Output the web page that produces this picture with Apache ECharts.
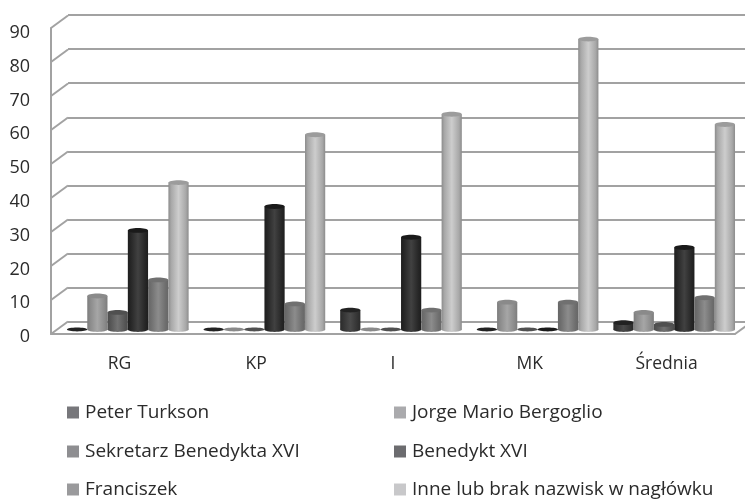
<!DOCTYPE html>
<html><head><meta charset="utf-8">
<style>html,body{margin:0;padding:0;background:#fff}#c{width:745px;height:500px;filter:blur(0.45px)}</style>
<script src="https://cdn.jsdelivr.net/npm/echarts@6/dist/echarts.min.js"></script>
</head><body><div id="c"></div>
<script>
const categories = ['RG','KP','I','MK','Średnia'];
const yTicks = [0,10,20,30,40,50,60,70,80,90];
const names = ['Peter Turkson','Jorge Mario Bergoglio','Sekretarz Benedykta XVI','Benedykt XVI','Franciszek','Inne lub brak nazwisk w nagłówku'];
const peterTurkson = [0,0,5.7,0,2];
const jorgeBergoglio = [9.8,0,0,8,5];
const sekretarz = [5,0,0,0,1.5];
const benedykt = [29,36,27,0,24];
const franciszek = [14.5,7.5,5.7,8,9.3];
const inne = [43,57,63,85,60];
const allValues = [peterTurkson,jorgeBergoglio,sekretarz,benedykt,franciszek,inne];
const legendColors = ['#77777b','#aaaaad','#8e8e91','#6c6c6f','#9a9a9c','#c8c8ca'];
const bodyShades = [
  ['#2a2a2a','#4a4a4a','#333333'],
  ['#7c7c7c','#a6a6a6','#8a8a8a'],
  ['#4c4c4c','#727272','#555555'],
  ['#1e1e1e','#414141','#262626'],
  ['#666666','#8c8c8c','#6e6e6e'],
  ['#8c8c8c','#cdcdcd','#a8a8a8']
];
const capShades = ['#222222','#8a8a8a','#505050','#1a1a1a','#707070','#9c9c9c'];
const GRID_LINE = '#a2a2a2', TEXT = '#2b2b2b', FONT = 'Open Sans';
const DEPTH_X = 17, DEPTH_Y = -12.5;
const legendPos = [[67,403],[394,403],[67,442],[394,442],[67,480],[394,480]];

function barSeries(i){
  return {
    type:'custom', name:names[i], xAxisIndex:2, yAxisIndex:2, z:5+i, clip:false,
    encode:{x:0,y:1},
    data:allValues[i].map((v,k)=>[k,v]),
    renderItem(params,api){
      const c = api.coord([api.value(0),api.value(1)]);
      const base = api.coord([api.value(0),0]);
      const band = api.size([1,0])[0];
      const pitch = band*0.1485, w = band*0.148;
      const x = c[0]+(i-2.5)*pitch-w/2, rx=w/2, ry=2.4;
      const s = bodyShades[i];
      const fill = {type:'linear',x:0,y:0,x2:1,y2:0,colorStops:[
        {offset:0,color:s[0]},{offset:.14,color:s[2]},{offset:.5,color:s[1]},{offset:.86,color:s[2]},{offset:1,color:s[0]}]};
      const h = base[1]-c[1];
      const children = [];
      if(h>0.5){
        children.push({type:'rect',shape:{x:x,y:c[1],width:w,height:h},style:{fill:fill}});
        children.push({type:'ellipse',shape:{cx:x+rx,cy:base[1],rx:rx,ry:ry},style:{fill:fill}});
      }
      children.push({type:'ellipse',shape:{cx:x+rx,cy:c[1],rx:rx,ry:h>0.5?ry:1.9},style:{fill:capShades[i]}});
      return {type:'group',children:children};
    }
  };
}

const frame = {
  type:'custom', xAxisIndex:1, yAxisIndex:1, z:2, silent:true, clip:false,
  data:yTicks.map(v=>[0,v]),
  renderItem(params,api){
    const r = params.coordSys, y = api.coord([0,api.value(1)])[1];
    const children = [{type:'line',shape:{x1:r.x,y1:y,x2:r.x+DEPTH_X,y2:y+DEPTH_Y},style:{stroke:GRID_LINE,lineWidth:2}}];
    if(api.value(1)===0){
      children.push({type:'line',shape:{x1:r.x+r.width,y1:y,x2:r.x+r.width+DEPTH_X,y2:y+DEPTH_Y},style:{stroke:GRID_LINE,lineWidth:2}});
    }
    return {type:'group',children:children};
  }
};

const chart = echarts.init(document.getElementById('c'),null,{renderer:'canvas'});
chart.setOption({
  animation:false, backgroundColor:'#fff',
  textStyle:{fontFamily:FONT},
  grid:[
    {left:68,right:-2,top:15,height:307},
    {left:51,width:684,top:28,height:306},
    {left:59.5,width:683,top:22,height:307.5},
    {left:51,width:684,top:33,height:304}
  ],
  xAxis:[
    {gridIndex:0,type:'category',data:categories,show:false},
    {gridIndex:1,type:'category',data:categories,
      axisLine:{show:true,lineStyle:{color:GRID_LINE,width:2}},axisTick:{show:false},
      axisLabel:{color:TEXT,fontSize:17.5,fontFamily:FONT,margin:21}},
    {gridIndex:2,type:'category',data:categories,show:false},
    {gridIndex:3,type:'category',data:categories,show:false}
  ],
  yAxis:[
    {gridIndex:0,type:'value',min:0,max:90,interval:10,
      axisLine:{show:false},axisTick:{show:false},axisLabel:{show:false},
      splitLine:{show:true,lineStyle:{color:GRID_LINE,width:2}}},
    {gridIndex:1,type:'value',min:0,max:90,interval:10,
      axisLine:{show:true,lineStyle:{color:GRID_LINE,width:2}},axisTick:{show:false},
      axisLabel:{show:false},splitLine:{show:false}},
    {gridIndex:2,type:'value',min:0,max:90,interval:10,show:false},
    {gridIndex:3,type:'value',min:0,max:90,interval:10,
      axisLine:{show:false},axisTick:{show:false},splitLine:{show:false},
      axisLabel:{color:TEXT,fontSize:18,fontFamily:FONT,margin:21}}
  ],
  legend:names.map((n,i)=>({
    left:legendPos[i][0],top:legendPos[i][1],
    data:[{name:n,itemStyle:{color:legendColors[i]},icon:'rect'}],
    itemWidth:12,itemHeight:12,itemGap:0,padding:0,
    textStyle:{color:TEXT,fontSize:19,fontFamily:FONT,padding:[0,0,0,1]},
    selectedMode:false
  })),
  series:[frame].concat(names.map((n,i)=>barSeries(i)))
});
</script></body></html>
